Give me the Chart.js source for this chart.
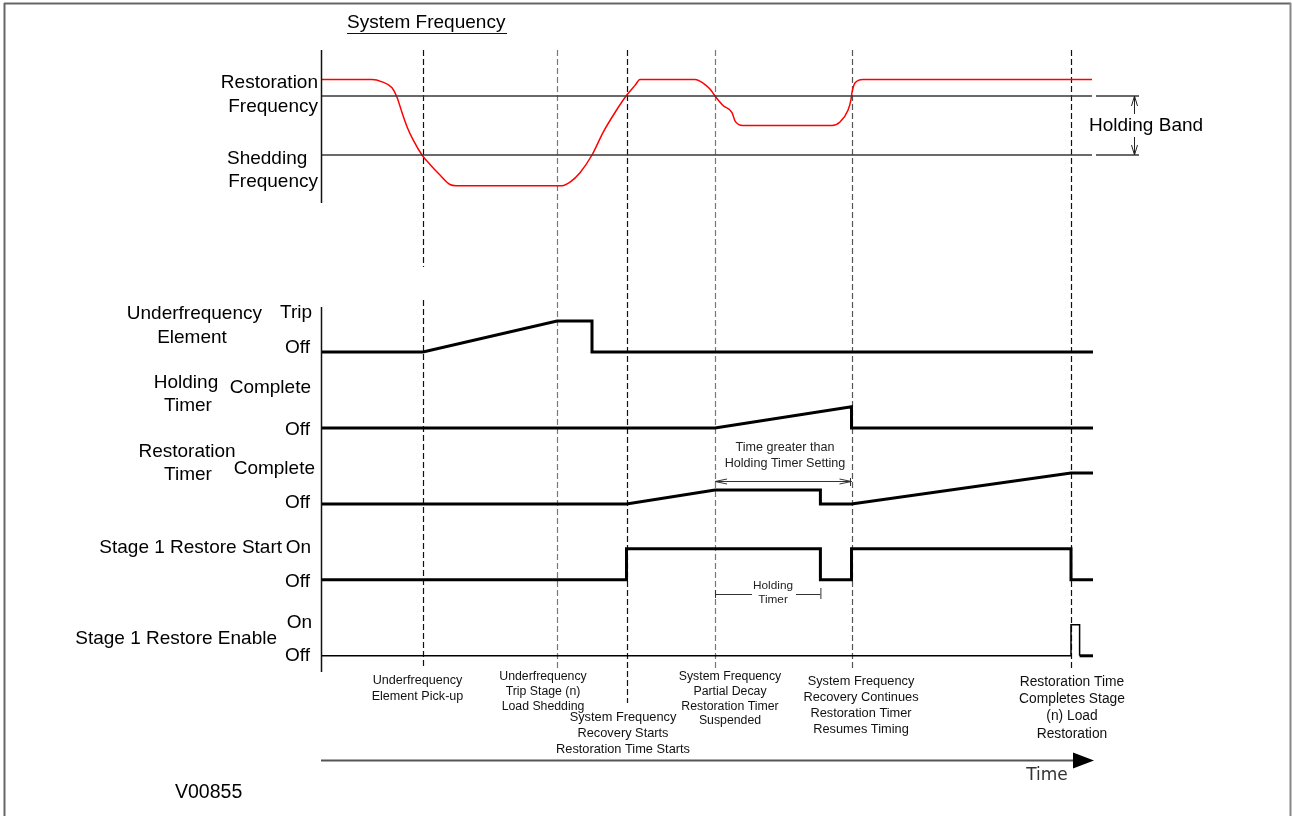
<!DOCTYPE html>
<html lang="en">
<head>
<meta charset="UTF-8">
<title>Underfrequency Load Shedding and Restoration</title>
<script src="https://cdn.jsdelivr.net/npm/chart.js"></script>
<style>
  html, body { margin: 0; padding: 0; background: #fff; }
  #wrap { width: 1292px; height: 816px; position: relative; }
</style>
</head>
<body>
<div id="wrap"><canvas id="timing"></canvas></div>
<script>
// time runs in arbitrary units, 0 = left edge of the trace
const eventTimes = [10.2, 23.6, 30.55, 39.4, 53.05, 75.0];
const holdingExpiry = 49.94;
const endTime = 77.2;

// system frequency, Hz
const restorationHz = 49.5;
const sheddingHz = 49.0;
const freqTime = [0, 5.1, 6.1, 7.1, 7.6, 8.1, 8.6, 9.2, 10.1, 10.9, 11.9, 12.9, 13.5, 24.1, 24.9, 25.9, 27.1, 28.2, 29.4, 30.6,
                  31.4, 31.9, 37.4, 38.2, 38.9, 39.4, 40.2, 41.1, 41.4, 42.2, 51.1, 51.9, 52.7, 53.0, 53.1, 53.4, 54.2, 77.1];
const freqHz = [49.64, 49.64, 49.62, 49.57, 49.49, 49.36, 49.24, 49.13, 49.00, 48.92, 48.83, 48.75, 48.74, 48.74, 48.77, 48.85, 49.00, 49.19, 49.36, 49.51,
                49.59, 49.64, 49.64, 49.61, 49.56, 49.50, 49.42, 49.36, 49.29, 49.25, 49.25, 49.28, 49.38, 49.47, 49.53, 49.61, 49.64, 49.64];

// logic signals: 0 = Off, 1 = Trip / Complete / On
const ufTime = [0, 10.2, 23.6, 27.1, 27.1, 77.2];
const ufLevel = [0, 0, 1, 1, 0, 0];
const holdTime = [0, 39.4, 53.05, 53.05, 77.2];
const holdLevel = [0, 0, 0.68, 0, 0];
const restTime = [0, 30.55, 39.4, 49.94, 49.94, 53.05, 75.0, 77.2];
const restLevel = [0, 0, 0.45, 0.45, 0, 0, 1, 1];
const startTime = [0, 30.55, 30.55, 49.94, 49.94, 53.05, 53.05, 75.0, 75.0, 77.2];
const startLevel = [0, 0, 1, 1, 0, 0, 1, 1, 0, 0];
const enableTime = [0, 75.0, 75.0, 75.86, 75.86];
const enableLevel = [0, 0, 1, 1, 0];
const enableTailTime = [75.86, 77.2];
const enableTailLevel = [0, 0];

const ROW_GAP = 2.45;   // vertical distance between signal rows, in On-units
const FONT = '"Liberation Sans", Arial, sans-serif';

function pts(xs, ys, row) {
  return xs.map((x, i) => ({ x: x, y: row === undefined ? ys[i] : ys[i] - row * ROW_GAP }));
}

function signal(xs, ys, row, width) {
  return {
    data: pts(xs, ys, row), yAxisID: 'yL', borderColor: '#000', borderWidth: width || 3,
    pointRadius: 0, tension: 0, borderJoinStyle: 'miter', fill: false
  };
}

function label(ctx, s, x, y, size, align, color, family) {
  ctx.font = size + 'px ' + (family || FONT);
  ctx.textAlign = align || 'left';
  ctx.textBaseline = 'middle';
  ctx.fillStyle = color || '#000';
  ctx.fillText(s, x, y);
}

function line(ctx, x1, y1, x2, y2, color, w) {
  ctx.beginPath();
  ctx.strokeStyle = color;
  ctx.lineWidth = w;
  ctx.moveTo(x1, y1);
  ctx.lineTo(x2, y2);
  ctx.stroke();
}

// dashed event markers, drawn under the traces
const guides = {
  id: 'guides',
  beforeDatasetsDraw(chart) {
    const ctx = chart.ctx, X = v => chart.scales.x.getPixelForValue(v);
    const colors = ['#111', '#777', '#111', '#777', '#555', '#111'];
    const spans = [[[50, 267], [300, 668]], [[50, 670]], [[50, 703]], [[50, 668]], [[50, 668]], [[50, 668]]];
    ctx.save();
    ctx.setLineDash([6, 3]);
    eventTimes.forEach((t, i) => {
      const x = Math.round(X(t)) + 0.5;
      spans[i].forEach(s => line(ctx, x, s[0], x, s[1], colors[i], 1.2));
    });
    ctx.restore();
  }
};

const notes = {
  id: 'notes',
  afterDatasetsDraw(chart) {
    const ctx = chart.ctx, X = v => chart.scales.x.getPixelForValue(v);
    const x0 = Math.round(X(0)) + 0.5;
    ctx.save();

    // frame
    line(ctx, 4, 3.5, 1291, 3.5, '#666', 2);
    line(ctx, 4.5, 3, 4.5, 816, '#666', 2);
    line(ctx, 1290.5, 3, 1290.5, 816, '#888', 2);

    // frequency panel
    label(ctx, 'System Frequency', 347, 23, 19);
    line(ctx, 347, 33.5, 507, 33.5, '#111', 1.2);
    line(ctx, x0, 50, x0, 203, '#111', 1.5);
    label(ctx, 'Restoration', 318, 83, 19, 'right');
    label(ctx, 'Frequency', 318, 107, 19, 'right');
    label(ctx, 'Shedding', 227, 159, 19);
    label(ctx, 'Frequency', 318, 182, 19, 'right');

    // holding band dimension
    const yR = chart.scales.yF.getPixelForValue(restorationHz);
    const yS = chart.scales.yF.getPixelForValue(sheddingHz);
    const xb = 1134.5;
    line(ctx, xb, yR, xb, yR + 18, '#222', 1);
    line(ctx, xb, yS - 18, xb, yS, '#222', 1);
    line(ctx, xb, yR, xb - 3, yR + 10, '#222', 1);
    line(ctx, xb, yR, xb + 3, yR + 10, '#222', 1);
    line(ctx, xb, yS, xb - 3, yS - 10, '#222', 1);
    line(ctx, xb, yS, xb + 3, yS - 10, '#222', 1);
    label(ctx, 'Holding Band', 1089, 126, 19);

    // signal panel
    line(ctx, x0, 307, x0, 672, '#111', 1.5);
    const L = 19;
    label(ctx, 'Underfrequency', 262, 314, L, 'right');
    label(ctx, 'Element', 192, 338, L, 'center');
    label(ctx, 'Trip', 312, 313, L, 'right');
    label(ctx, 'Off', 310, 348, L, 'right');
    label(ctx, 'Holding', 186, 383, L, 'center');
    label(ctx, 'Timer', 188, 406, L, 'center');
    label(ctx, 'Complete', 311, 388, L, 'right');
    label(ctx, 'Off', 310, 430, L, 'right');
    label(ctx, 'Restoration', 187, 452, L, 'center');
    label(ctx, 'Timer', 188, 475, L, 'center');
    label(ctx, 'Complete', 315, 469, L, 'right');
    label(ctx, 'Off', 310, 503, L, 'right');
    label(ctx, 'Stage 1 Restore Start', 282, 548, L, 'right');
    label(ctx, 'On', 311, 548, L, 'right');
    label(ctx, 'Off', 310, 582, L, 'right');
    label(ctx, 'On', 312, 623, L, 'right');
    label(ctx, 'Stage 1 Restore Enable', 277, 639, L, 'right');
    label(ctx, 'Off', 310, 656, L, 'right');

    // time greater than holding timer setting
    const xa = X(eventTimes[3]), xc = X(eventTimes[4]), xh = X(holdingExpiry);
    label(ctx, 'Time greater than', 785, 448, 12.6, 'center', '#222');
    label(ctx, 'Holding Timer Setting', 785, 464, 12.6, 'center', '#222');
    line(ctx, xa, 481.5, xc, 481.5, '#333', 1);
    line(ctx, xa, 481.5, xa + 12, 479, '#333', 1);
    line(ctx, xa, 481.5, xa + 12, 484, '#333', 1);
    line(ctx, xc, 481.5, xc - 12, 479, '#333', 1);
    line(ctx, xc, 481.5, xc - 12, 484, '#333', 1);
    line(ctx, xc - 1, 478, xc - 1, 486, '#333', 1);

    // holding timer
    line(ctx, xa, 594.5, xh, 594.5, '#333', 1);
    line(ctx, xa + 0.5, 590, xa + 0.5, 598, '#333', 1);
    line(ctx, xh + 0.5, 588, xh + 0.5, 599, '#333', 1);
    ctx.fillStyle = '#fff';
    ctx.fillRect(752, 588, 44, 13);
    label(ctx, 'Holding', 773, 586, 11.8, 'center', '#222');
    label(ctx, 'Timer', 773, 600, 11.8, 'center', '#222');

    // event captions
    const captions = [
      { t: eventTimes[0], dx: -5.5, y: 681, step: 16, size: 12.6, lines: ['Underfrequency', 'Element Pick-up'] },
      { t: eventTimes[1], dx: -14, y: 677, step: 14.6, size: 12.3, lines: ['Underfrequency', 'Trip Stage (n)', 'Load Shedding'] },
      { t: eventTimes[2], dx: -3.5, y: 717, step: 16, size: 12.8, lines: ['System Frequency', 'Recovery Starts', 'Restoration Time Starts'] },
      { t: eventTimes[3], dx: 15, y: 677, step: 14.7, size: 12.3, lines: ['System Frequency', 'Partial Decay', 'Restoration Timer', 'Suspended'] },
      { t: eventTimes[4], dx: 9.5, y: 681, step: 16.3, size: 12.8, lines: ['System Frequency', 'Recovery Continues', 'Restoration Timer', 'Resumes Timing'] },
      { t: eventTimes[5], dx: 1, y: 682, step: 17.3, size: 13.8, lines: ['Restoration Time', 'Completes Stage', '(n) Load', 'Restoration'] }
    ];
    captions.forEach(c => c.lines.forEach((s, i) =>
      label(ctx, s, X(c.t) + c.dx, c.y + i * c.step, c.size, 'center', '#111')));

    // time arrow
    line(ctx, x0 - 0.5, 760.5, 1076, 760.5, '#555', 2);
    ctx.beginPath();
    ctx.fillStyle = '#000';
    ctx.moveTo(1073, 752.5);
    ctx.lineTo(1094, 760.5);
    ctx.lineTo(1073, 768.5);
    ctx.closePath();
    ctx.fill();
    label(ctx, 'Time', 1047, 776, 17, 'center', '#333', '"DejaVu Sans", sans-serif');

    label(ctx, 'V00855', 175, 793, 19.5);
    ctx.restore();
  }
};

new Chart(document.getElementById('timing'), {
  type: 'line',
  data: {
    datasets: [
      { data: [{ x: 0, y: restorationHz }, { x: 77.1, y: restorationHz }, { x: 77.3, y: null }, { x: 77.5, y: restorationHz }, { x: 81.8, y: restorationHz }],
        yAxisID: 'yF', borderColor: '#3a3a3a', borderWidth: 1.3, pointRadius: 0, spanGaps: false },
      { data: [{ x: 0, y: sheddingHz }, { x: 77.1, y: sheddingHz }, { x: 77.3, y: null }, { x: 77.5, y: sheddingHz }, { x: 81.8, y: sheddingHz }],
        yAxisID: 'yF', borderColor: '#3a3a3a', borderWidth: 1.3, pointRadius: 0, spanGaps: false },
      { data: pts(freqTime, freqHz), yAxisID: 'yF', borderColor: '#ff0000', borderWidth: 1.5,
        pointRadius: 0, cubicInterpolationMode: 'monotone' },
      signal(ufTime, ufLevel, 0),
      signal(holdTime, holdLevel, 1),
      signal(restTime, restLevel, 2),
      signal(startTime, startLevel, 3),
      signal(enableTime, enableLevel, 4, 1.5),
      signal(enableTailTime, enableTailLevel, 4)
    ]
  },
  plugins: [guides, notes],
  options: {
    responsive: true,
    maintainAspectRatio: false,
    animation: false,
    layout: { padding: 0 },
    plugins: { legend: { display: false }, tooltip: { enabled: false } },
    scales: {
      x: { type: 'linear', display: false, min: -32.1, max: 97.1 },
      yF: { type: 'linear', display: false, min: 43.398, max: 50.3136 },
      yL: { type: 'linear', display: false, min: -14.968, max: 11.355 }
    }
  }
});
</script>
</body>
</html>
